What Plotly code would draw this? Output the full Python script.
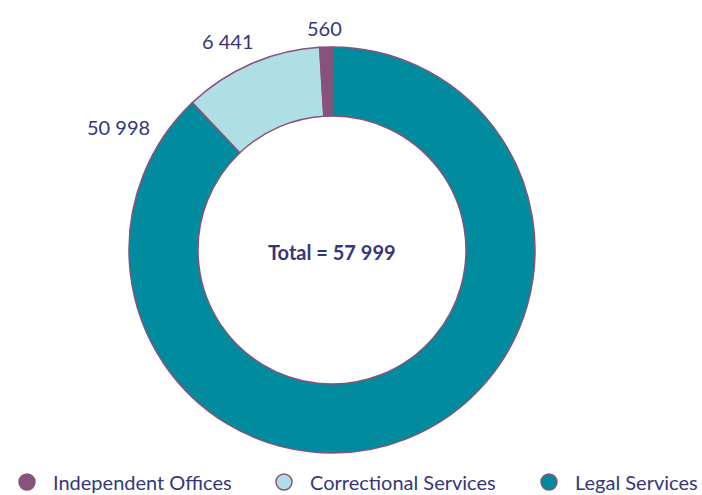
import plotly.graph_objects as go

categories = ["Independent Offices", "Correctional Services", "Legal Services"]
values = [560, 6441, 50998]
value_labels = ["560", "6 441", "50 998"]
colors = ["#88537A", "#AEDFE4", "#008C9E"]
total_label = "Total = 57 999"

text_color = "#35377A"
line_color = "#88537A"
font_family = "Lato, 'Open Sans', sans-serif"

W, H = 702, 495


def px_x(x):
    return x / W


def px_y(y):
    return 1 - y / H


fig = go.Figure()
# clockwise from 12 o'clock, legal first so the small slice ends just left of top
fig.add_trace(go.Pie(
    labels=categories[::-1],
    values=values[::-1],
    hole=0.66,
    sort=False,
    direction="clockwise",
    rotation=0,
    marker=dict(colors=colors[::-1], line=dict(color=line_color, width=1.5)),
    textinfo="none",
    hoverinfo="label+value",
    showlegend=False,
    domain=dict(x=[px_x(332 - 203), px_x(332 + 203)],
                y=[px_y(250 + 203), px_y(250 - 203)]),
))

legend_widths = [200, 208, 120]
for name, col, lw in zip(categories, colors, legend_widths):
    fig.add_trace(go.Scatter(
        x=[None], y=[None], mode="markers", name=name,
        marker=dict(symbol="circle", size=16, color=col,
                    line=dict(color=line_color, width=1.5)),
        showlegend=True, legendwidth=lw,
    ))

label_pos = [(324.5, 28), (228, 41), (118.5, 127)]
annotations = []
for txt, (px, py) in zip(value_labels, label_pos):
    annotations.append(dict(
        x=px_x(px), y=px_y(py), xref="paper", yref="paper",
        xanchor="center", yanchor="middle",
        text=txt, showarrow=False,
        font=dict(family=font_family, size=20, color=text_color),
    ))
annotations.append(dict(
    x=px_x(332), y=px_y(252), xref="paper", yref="paper",
    xanchor="center", yanchor="middle",
    text="<b>" + total_label + "</b>", showarrow=False,
    font=dict(family=font_family, size=20, color=text_color),
))

fig.update_layout(
    width=W, height=H,
    margin=dict(l=0, r=0, t=0, b=0, autoexpand=False),
    paper_bgcolor="white", plot_bgcolor="white",
    xaxis=dict(visible=False), yaxis=dict(visible=False),
    annotations=annotations,
    legend=dict(orientation="h", x=px_x(1), xanchor="left",
                y=px_y(482), yanchor="middle",
                font=dict(family=font_family, size=20, color=text_color),
                itemsizing="trace", traceorder="normal", itemwidth=42),
)

fig.write_html("out.html", config={"displayModeBar": False},
               post_script="document.body.style.margin='0';")
